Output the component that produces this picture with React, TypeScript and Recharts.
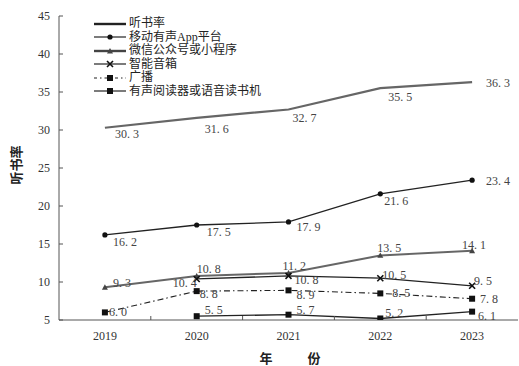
import { Line, LineChart, XAxis, YAxis } from 'recharts';

const years = ['2019', '2020', '2021', '2022', '2023'];
const yTicks = [5, 10, 15, 20, 25, 30, 35, 40, 45];

const listenRate = [30.3, 31.6, 32.7, 35.5, 36.3];
const mobileApp = [16.2, 17.5, 17.9, 21.6, 23.4];
const wechat = [9.3, 10.8, 11.2, 13.5, 14.1];
const smartSpeaker = [null, 10.4, 10.8, 10.5, 9.5];
const radio = [6.0, 8.8, 8.9, 8.5, 7.8];
const reader = [null, 5.5, 5.7, 5.2, 6.1];

const data = years.map((year, i) => ({
  year,
  listenRate: listenRate[i],
  mobileApp: mobileApp[i],
  wechat: wechat[i],
  smartSpeaker: smartSpeaker[i],
  radio: radio[i],
  reader: reader[i],
}));

const FONT = "'Liberation Serif', 'Noto Sans CJK SC', serif";
const INK = '#222';
const GRAY = '#666';
const W = 519;
const H = 366;
const PLOT_LEFT = 59;
const PLOT_RIGHT = 518;
const HALF_BAND = (PLOT_RIGHT - PLOT_LEFT) / years.length / 2;

// label offsets [dx, dy] from each point, start-anchored
const labelOffsets: Record<string, [number, number][]> = {
  listenRate: [[10, 6], [8, 11], [4, 9], [8, 9], [14, 1]],
  mobileApp: [[8, 7], [10, 7], [8, 5], [4, 7], [14, 1]],
  wechat: [[8, -4], [0, -7], [-6, -7], [-3, -7], [-10, -6]],
  smartSpeaker: [[0, 0], [-24, 4], [6, 4], [2, -3], [2, -5]],
  radio: [[4, 0], [3, 3], [8, 5], [12, 0], [8, 0]],
  reader: [[0, 0], [8, -6], [8, -5], [5, -5], [6, 4]],
};

const fmt = (v: number) => v.toFixed(1).replace('.', '. ');

const makeLabel = (key: string) => (props: any) => {
  const { x, y, value, index } = props;
  if (value == null || x == null || y == null) return <g key={`l-${key}-${index}`} />;
  const [dx, dy] = labelOffsets[key][index] || [6, 0];
  return (
    <text
      key={`l-${key}-${index}`}
      x={x + dx}
      y={y + dy}
      fontSize={12}
      fill="#444"
      fontFamily={FONT}
      dominantBaseline="central"
    >
      {fmt(Number(value))}
    </text>
  );
};

type Marker = 'circle' | 'triangle' | 'cross' | 'square' | 'none';

function MarkerShape({ kind, cx, cy, color }: { kind: Marker; cx: number; cy: number; color: string }) {
  if (kind === 'circle') return <circle cx={cx} cy={cy} r={2.6} fill={color} />;
  if (kind === 'triangle')
    return <polygon points={`${cx},${cy - 3} ${cx - 3},${cy + 2.4} ${cx + 3},${cy + 2.4}`} fill={color} />;
  if (kind === 'cross')
    return (
      <g stroke={color} strokeWidth={1.6}>
        <line x1={cx - 3} y1={cy - 3} x2={cx + 3} y2={cy + 3} />
        <line x1={cx - 3} y1={cy + 3} x2={cx + 3} y2={cy - 3} />
      </g>
    );
  if (kind === 'square') return <rect x={cx - 3} y={cy - 3} width={6} height={6} fill={color} />;
  return null;
}

const makeDot = (key: string, kind: Marker, color: string) => (props: any) => {
  const { cx, cy, value, index } = props;
  if (value == null || cx == null || cy == null) return <g key={`d-${key}-${index}`} />;
  return (
    <g key={`d-${key}-${index}`}>
      <MarkerShape kind={kind} cx={cx} cy={cy} color={color} />
    </g>
  );
};

const seriesDefs = [
  { key: 'listenRate', name: '听书率', stroke: GRAY, legendStroke: INK, width: 2.2, dash: undefined, marker: 'none' as Marker, markerColor: INK },
  { key: 'mobileApp', name: '移动有声App平台', stroke: INK, legendStroke: INK, width: 1.3, dash: undefined, marker: 'circle' as Marker, markerColor: '#111' },
  { key: 'wechat', name: '微信公众号或小程序', stroke: GRAY, legendStroke: '#444', width: 2, dash: undefined, marker: 'triangle' as Marker, markerColor: '#444' },
  { key: 'smartSpeaker', name: '智能音箱', stroke: INK, legendStroke: INK, width: 1.3, dash: undefined, marker: 'cross' as Marker, markerColor: '#111' },
  { key: 'radio', name: '广播', stroke: INK, legendStroke: INK, width: 1.1, dash: '6 3 1.5 3', marker: 'square' as Marker, markerColor: '#111' },
  { key: 'reader', name: '有声阅读器或语音读书机', stroke: INK, legendStroke: INK, width: 1.3, dash: undefined, marker: 'square' as Marker, markerColor: '#111' },
];

function LegendBox() {
  return (
    <div
      style={{
        position: 'absolute',
        left: 93,
        top: 17,
        fontFamily: FONT,
        fontSize: 12,
        color: INK,
        lineHeight: '13.5px',
      }}
    >
      {seriesDefs.map((s) => (
        <div key={s.key} style={{ display: 'flex', alignItems: 'center', height: 13.5 }}>
          <svg width={34} height={10} style={{ marginRight: 2 }}>
            <line
              x1={1}
              y1={5}
              x2={33}
              y2={5}
              stroke={s.legendStroke}
              strokeWidth={s.key === 'listenRate' || s.key === 'wechat' ? 2.4 : 1.2}
              strokeDasharray={s.dash ? '3 3 1.5 3' : undefined}
            />
            <MarkerShape kind={s.marker} cx={17} cy={5} color={s.markerColor} />
          </svg>
          <span>{s.name}</span>
        </div>
      ))}
    </div>
  );
}

function XTick(props: any) {
  const { x, y, payload, index } = props;
  return (
    <g>
      {index > 0 && <line x1={x - HALF_BAND} y1={y} x2={x - HALF_BAND} y2={y - 4} stroke="#555" />}
      <text x={x} y={y + 16} textAnchor="middle" dominantBaseline="central" fontSize={12} fill="#333" fontFamily={FONT}>
        {payload.value}
      </text>
    </g>
  );
}

function YTick(props: any) {
  const { x, y, payload } = props;
  return (
    <g>
      <line x1={x} y1={y} x2={x + 4} y2={y} stroke="#555" />
      <text x={x - 9} y={y} textAnchor="end" dominantBaseline="central" fontSize={12} fill="#333" fontFamily={FONT}>
        {payload.value}
      </text>
    </g>
  );
}

export default function App() {
  return (
    <div style={{ position: 'absolute', left: 0, top: 0, width: W, height: H, background: '#fff' }}>
      <LineChart width={W} height={H} data={data} margin={{ top: 16, right: W - PLOT_RIGHT, left: 0, bottom: 0 }}>
        <XAxis
          dataKey="year"
          height={46}
          padding={{ left: HALF_BAND, right: HALF_BAND }}
          tickSize={0}
          tickMargin={0}
          tickLine={false}
          axisLine={{ stroke: '#555' }}
          tick={<XTick />}
          interval={0}
          label={{
            content: () => (
              <g fontFamily={FONT} fontSize={13} fontWeight="bold" fill="#222">
                <text x={266} y={358} textAnchor="middle" dominantBaseline="central">年</text>
                <text x={314} y={358} textAnchor="middle" dominantBaseline="central">份</text>
              </g>
            ),
          }}
        />
        <YAxis
          width={PLOT_LEFT}
          domain={[5, 45]}
          ticks={yTicks}
          allowDataOverflow
          tickSize={0}
          tickMargin={0}
          tickLine={false}
          axisLine={{ stroke: '#555' }}
          tick={<YTick />}
          label={{
            content: () => (
              <text
                x={16}
                y={165}
                transform="rotate(-90 16 165)"
                textAnchor="middle"
                dominantBaseline="central"
                fontFamily={FONT}
                fontSize={13}
                fontWeight="bold"
                fill="#222"
              >
                听书率
              </text>
            ),
          }}
        />
        {seriesDefs.map((s) => (
          <Line
            key={s.key}
            dataKey={s.key}
            name={s.name}
            stroke={s.stroke}
            strokeWidth={s.width}
            strokeDasharray={s.dash}
            type="linear"
            dot={makeDot(s.key, s.marker, s.markerColor)}
            activeDot={false}
            label={makeLabel(s.key)}
            isAnimationActive={false}
          />
        ))}
      </LineChart>
      <LegendBox />
    </div>
  );
}
